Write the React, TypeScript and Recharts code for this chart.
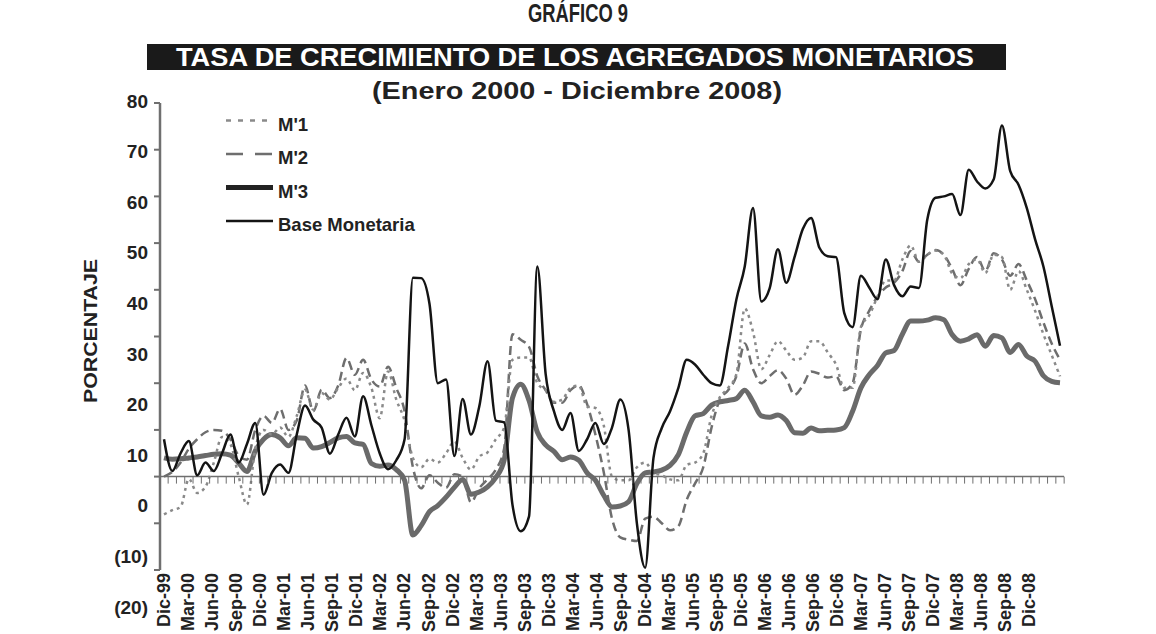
import { LineChart, Line, XAxis, YAxis, ReferenceLine } from "recharts";

const FONT = "'Liberation Sans', Arial, sans-serif";

// months Dic-99 .. Dic-08
const MESES = ["Ene", "Feb", "Mar", "Abr", "May", "Jun", "Jul", "Ago", "Sep", "Oct", "Nov", "Dic"];
const meses: string[] = ["Dic-99"];
for (let a = 0; a <= 8; a++) for (const m of MESES) meses.push(`${m}-0${a}`);

const yTicks = [80, 70, 60, 50, 40, 30, 20, 10, 0, -10, -20];

const m1 = [
  -8.1, -7.2, -6.5, -0.5, -3.5, -2.2, 3, 8.5, 7, 0, -6, 6, 10, 9, 10.5, 8.5, 13, 18.6, 14.3, 17.9,
  16.5, 19, 21, 18.5, 22.2, 19, 12.5, 22.5, 16.5, 12, 4, 2, 3.8, 3, 5, 7.5, 4, 1.5, 4.3, 5.2,
  8, 10.5, 25, 25.5, 25.5, 20, 18.5, 16, 16.5, 19, 19.5, 15, 14.7, 11, 0, -0.8, -0.8, 2, 3, 0.8,
  0.3, -0.6, -0.8, 2.5, 3, 5, 13, 17, 19, 22, 36, 31, 23, 26, 29, 27, 25, 25.5, 29, 29,
  26.6, 24, 19, 19, 32, 34.5, 38.5, 42, 42, 46.5, 49.5, 46, 47.5, 48.4, 47.5, 43.5, 42.5, 45.5, 46.5, 43.6,
  47.5, 47, 40, 44, 40, 35.5, 30.5, 26, 21.5,
];

const m2 = [
  0, 1, 3, 6, 8, 9.5, 10, 9.8, 8, 4.5, 3.6, 10, 13, 11.5, 14.5, 10, 12, 19.5, 14, 18.6,
  16.8, 19.5, 25.4, 21.8, 25, 20.8, 19.3, 23.5, 19, 14, 2, -2.5, 0.3, -1.3, -2.4, 0.5, 0, -5.5, -2.5, -0.6,
  1.5, 6, 30.5, 29.3, 27.8, 21.5, 18.5, 15.8, 15.8, 18.5, 19.5, 15.5, 9, 1, -9, -13, -13.5, -13.8, -9, -8.6,
  -10, -11.5, -10.6, -5, -1.5, 2, 10.5, 16.5, 18.5, 21.5, 28.5, 23, 20, 21.5, 22.8, 21, 17.5, 19.5, 22.5, 22,
  21.2, 21.5, 18.5, 20, 31.5, 35.5, 38.5, 40.5, 41.5, 44, 48.3, 46, 47.5, 48.5, 47.5, 44.5, 41, 44.5, 47, 44,
  47.8, 46.5, 43, 45.5, 42, 38, 33, 28.5, 25,
];

const m3 = [
  4, 3.7, 3.8, 4, 4.2, 4.5, 4.8, 4.9, 4.6, 2.9, 1.1, 5.5, 8, 9, 8.3, 6.6, 8.3, 8.2, 6.1, 6.4,
  7.3, 8.3, 8.6, 7.2, 6.9, 2.8, 2.2, 2.5, 1.5, -0.8, -12.5, -10.5, -7.5, -6.2, -4.4, -2.3, -0.6, -3.8, -3.3, -2.2,
  -0.2, 3.5, 16.8, 19.8, 16.3, 9.5, 6.8, 5.4, 3.6, 4.2, 3.5, 0.8, -0.8, -4, -6.5, -6.3, -5.4, -1.5, 0.8, 1,
  1.4, 2.4, 4.7, 9.5, 13, 13.5, 15.3, 16, 16.3, 16.7, 18.5, 16, 13, 12.7, 13.2, 12, 9.4, 9.3, 10.4, 9.8,
  9.9, 10, 10.5, 14, 19, 21.8, 23.8, 26.5, 27, 30.5, 33.3, 33.3, 33.5, 34, 33.6, 30.4, 29, 29.5, 30.4, 27.9,
  30.2, 29.7, 26.6, 28.3, 25.8, 24.7, 21.6, 20.4, 20.1,
];

const base = [
  8, 1.2, 5, 7.6, 0.3, 3, 1.2, 5, 9, 3, 7, 11.5, -3.9, 0.8, 2.6, 0.8, 9, 15.2, 12.2, 10.5,
  4.9, 9, 12.6, 8.6, 17.2, 11, 5, 1.6, 3.5, 8, 42.6, 42.5, 37, 20, 20.8, 4.4, 16.6, 9, 15, 24.7,
  12, 11.6, -6, -11.7, -8.5, 45, 22, 14, 10, 13.6, 5.5, 8, 11.5, 7, 10.5, 16.5, 10, -10, -19.5, 4,
  10.4, 14, 19, 25, 24, 21.8, 20, 19.5, 28, 38, 45, 57.5, 37.5, 40.3, 48.7, 41.5, 47, 53, 55.4, 49,
  47.2, 47, 35, 32, 43, 40.5, 38, 46.5, 41, 38.6, 40.7, 40.4, 55, 59.7, 60, 60.5, 56, 65.7, 63.2, 61.7,
  63.6, 75.2, 65.4, 62.5, 57.5, 50.8, 45, 36.5, 28,
];

const rows = meses.map((mes, i) => ({ mes, m1: m1[i], m2: m2[i], m3: m3[i], base: base[i], cero: 0 }));

const series = [
  { key: "m3", name: "M'3", color: "#6a6a6a", width: 5, dash: undefined, legendColor: "#222", legendDash: undefined },
  { key: "m2", name: "M'2", color: "#6e6e6e", width: 2.5, dash: "9 5", legendColor: "#6e6e6e", legendDash: "17 12" },
  { key: "m1", name: "M'1", color: "#8a8a8a", width: 2.5, dash: "3 4", legendColor: "#8a8a8a", legendDash: "5 7" },
  { key: "base", name: "Base Monetaria", color: "#141414", width: 2.5, dash: undefined, legendColor: "#141414", legendDash: undefined },
];
const legendOrder = ["m1", "m2", "m3", "base"];

const AXIS = "#6f6f6f";
const textStyle = { fontFamily: FONT, fontWeight: 700, fill: "#222" };

function YTick(props: any) {
  const { x, y, payload } = props;
  const v = payload.value as number;
  const label = v < 0 ? `(${-v})` : `${v}`;
  // labels in the source drift a little below their ticks
  const drift = -2 + 3.9 * ((80 - v) / 10);
  return (
    <g>
      <line x1={x + 6} x2={x + 12} y1={y} y2={y} stroke={AXIS} strokeWidth={2} />
      <text x={x} y={y + drift} dy="0.35em" textAnchor="end" fontSize={19} style={textStyle}>
        {label}
      </text>
    </g>
  );
}

function XTick(props: any) {
  const { x, y, payload } = props;
  const index = props.index ?? payload.index;
  if (index % 3 !== 0) return <g />;
  const lx = x - 0.29 * index;
  return (
    <text
      x={lx}
      y={y}
      dy="0.35em"
      textAnchor="end"
      transform={`rotate(-90 ${lx} ${y})`}
      fontSize={18}
      style={textStyle}
    >
      {payload.value}
    </text>
  );
}

function TickMark(props: any) {
  const { cx, cy, index } = props;
  const half = 4.15;
  return (
    <g key={`t${index}`}>
      <line x1={cx - half} x2={cx - half} y1={cy} y2={cy + 7} stroke={AXIS} strokeWidth={1} />
      {index === rows.length - 1 && (
        <line x1={cx + half} x2={cx + half} y1={cy} y2={cy + 7} stroke={AXIS} strokeWidth={1} />
      )}
    </g>
  );
}

function LegendBox() {
  return (
    <g transform="translate(220,108)">
      {legendOrder.map((k, i) => {
        const s = series.find((d) => d.key === k)!;
        const y = 12.5 + 33.5 * i;
        return (
          <g key={k}>
            <line
              x1={6}
              x2={53}
              y1={y}
              y2={y}
              stroke={s.legendColor}
              strokeWidth={s.width}
              strokeDasharray={s.legendDash}
            />
            <text x={58} y={y + 4} dy="0.35em" fontSize={18.5} style={textStyle}>
              {s.name}
            </text>
          </g>
        );
      })}
    </g>
  );
}

export default function App() {
  return (
    <div style={{ position: "absolute", left: 0, top: 0, width: 1156, height: 634, background: "#fff" }}>
      <LineChart
        width={1156}
        height={634}
        data={rows}
        margin={{ top: 103, right: 92, bottom: 4, left: 100 }}
      >
        <XAxis
          dataKey="mes"
          interval={0}
          axisLine={false}
          tickLine={false}
          tickSize={0}
          tickMargin={3}
          height={60}
          padding={{ left: 4, right: 4 }}
          tick={<XTick />}
        />
        <YAxis
          domain={[-20, 80]}
          ticks={yTicks}
          interval={0}
          width={60}
          axisLine={{ stroke: AXIS, strokeWidth: 2.5 }}
          tickLine={false}
          tickSize={0}
          tickMargin={12}
          tick={<YTick />}
        />
        <ReferenceLine y={0} stroke={AXIS} strokeWidth={1.5} />
        <Line
          dataKey="cero"
          stroke="none"
          dot={TickMark}
          activeDot={false}
          isAnimationActive={false}
          legendType="none"
        />
        {series.map((s) => (
          <Line
            key={s.key}
            type="monotone"
            dataKey={s.key}
            name={s.name}
            stroke={s.color}
            strokeWidth={s.width}
            strokeDasharray={s.dash}
            dot={false}
            activeDot={false}
            isAnimationActive={false}
          />
        ))}
      </LineChart>
      <svg
        width={1156}
        height={634}
        style={{ position: "absolute", left: 0, top: 0, pointerEvents: "none" }}
      >
        <LegendBox />
        <text
          x={578}
          y={22}
          textAnchor="middle"
          fontSize={25}
          textLength={100}
          lengthAdjust="spacingAndGlyphs"
          style={textStyle}
        >
          GRÁFICO 9
        </text>
        <rect x={147} y={44} width={859} height={26} fill="#1a1a1a" />
        <text
          x={575}
          y={66}
          textAnchor="middle"
          fontSize={26}
          textLength={798}
          lengthAdjust="spacingAndGlyphs"
          style={{ ...textStyle, fill: "#fff" }}
        >
          TASA DE CRECIMIENTO DE LOS AGREGADOS MONETARIOS
        </text>
        <text
          x={577}
          y={99}
          textAnchor="middle"
          fontSize={24}
          textLength={410}
          lengthAdjust="spacingAndGlyphs"
          style={textStyle}
        >
          (Enero 2000 - Diciembre 2008)
        </text>
        <text
          x={97}
          y={331}
          textAnchor="middle"
          fontSize={19}
          textLength={144}
          lengthAdjust="spacingAndGlyphs"
          transform="rotate(-90 97 331)"
          style={textStyle}
        >
          PORCENTAJE
        </text>
      </svg>
    </div>
  );
}
